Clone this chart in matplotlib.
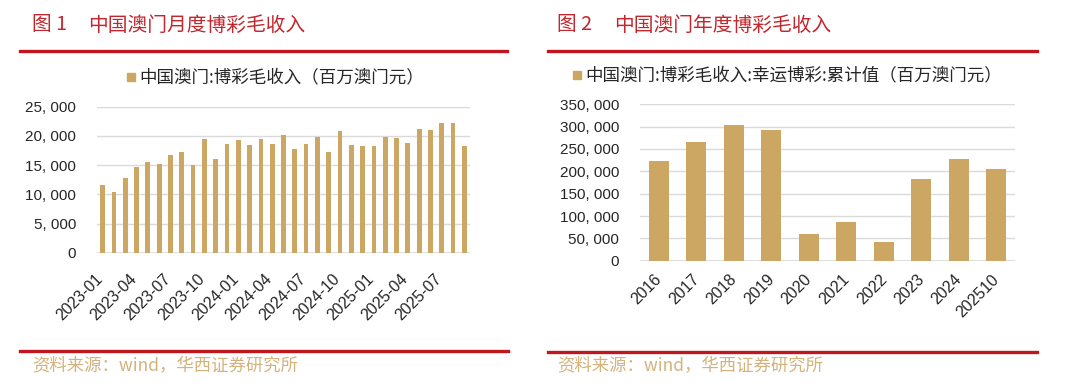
import matplotlib
matplotlib.use("Agg")
import matplotlib.pyplot as plt
from matplotlib.transforms import ScaledTranslation
from matplotlib.ticker import FuncFormatter

# ---------------- data ----------------
months = ["2023-01", "2023-02", "2023-03", "2023-04", "2023-05", "2023-06",
          "2023-07", "2023-08", "2023-09", "2023-10", "2023-11", "2023-12",
          "2024-01", "2024-02", "2024-03", "2024-04", "2024-05", "2024-06",
          "2024-07", "2024-08", "2024-09", "2024-10", "2024-11", "2024-12",
          "2025-01", "2025-02", "2025-03", "2025-04", "2025-05", "2025-06",
          "2025-07", "2025-08", "2025-09"]
monthly_ggr = [11580, 10324, 12738, 14722, 15565, 15207, 16662, 17213, 14937,
               19501, 16042, 18570, 19337, 18486, 19504, 18545, 20188, 17694,
               18600, 19754, 17253, 20790, 18438, 18266, 18254, 19744, 19667,
               18857, 21193, 21064, 22125, 22156, 18289]
month_tick_labels = ["2023-01", "2023-04", "2023-07", "2023-10", "2024-01",
                     "2024-04", "2024-07", "2024-10", "2025-01", "2025-04",
                     "2025-07"]

years = ["2016", "2017", "2018", "2019", "2020", "2021", "2022", "2023",
         "2024", "202510"]
annual_ggr = [223210, 265743, 302846, 292455, 60441, 86863, 42198, 183059,
              226782, 205435]

title1 = "中国澳门月度博彩毛收入"
title2 = "中国澳门年度博彩毛收入"
legend1 = "中国澳门:博彩毛收入（百万澳门元）"
legend2 = "中国澳门:博彩毛收入:幸运博彩:累计值（百万澳门元）"
source = "资料来源：wind，华西证券研究所"

# ---------------- style ----------------
BAR = "#CCA764"
RED = "#C0161D"
TITLE_RED = "#C3272E"
SRC = "#D3B27C"
GRID = "#DADADA"
TXT = "#262626"
CJK = ["Noto Sans CJK SC", "DejaVu Sans"]
NUM = ["Liberation Sans", "DejaVu Sans"]

W, H = 1080, 389
fig = plt.figure(figsize=(W / 100, H / 100), dpi=100)
fig.patch.set_facecolor("white")


def fx(px):
    return px / W


def fy(py):
    return 1 - py / H


def fmt(v, _):
    return f"{int(v):,}".replace(",", ", ")


def style_axes(ax, ylim, step, pad_y):
    ax.set_ylim(*ylim)
    ax.set_yticks(range(0, ylim[1] + 1, step))
    ax.yaxis.set_major_formatter(FuncFormatter(fmt))
    for s in ax.spines.values():
        s.set_visible(False)
    ax.grid(axis="y", color=GRID, linewidth=1.0)
    ax.set_axisbelow(True)
    ax.axhline(0, color=GRID, linewidth=1.2, zorder=0.5)
    ax.tick_params(axis="both", length=0)
    ax.tick_params(axis="y", pad=pad_y, labelsize=11, labelcolor=TXT)
    for t in ax.get_yticklabels():
        t.set_fontfamily(NUM)


# ---------------- left panel ----------------
ax1 = fig.add_axes([fx(97), fy(252.7), fx(470 - 97), (252.7 - 106.7) / H])
x1 = list(range(len(months)))
ax1.bar(x1, monthly_ggr, width=0.42, color=BAR, zorder=2)
ax1.set_xlim(-0.5, len(months) - 0.5)
style_axes(ax1, (0, 25000), 5000, 15)
tick_pos1 = [months.index(m) for m in month_tick_labels]
ax1.set_xticks(tick_pos1)
ax1.set_xticklabels(month_tick_labels, rotation=45, ha="right",
                    fontsize=11.5, color=TXT, fontfamily=NUM)
ax1.tick_params(axis="x", pad=13)
off1 = ScaledTranslation(3 / 100, 0, fig.dpi_scale_trans)
for t in ax1.get_xticklabels():
    t.set_transform(t.get_transform() + off1)

# ---------------- right panel ----------------
ax2 = fig.add_axes([fx(640), fy(260.7), fx(1015 - 640), (260.7 - 104.3) / H])
x2 = list(range(len(years)))
ax2.bar(x2, annual_ggr, width=0.53, color=BAR, zorder=2)
ax2.set_xlim(-0.5, len(years) - 0.5)
style_axes(ax2, (0, 350000), 50000, 15)
ax2.set_xticks(x2)
ax2.set_xticklabels(years, rotation=45, ha="right",
                    fontsize=11.5, color=TXT, fontfamily=NUM)
ax2.tick_params(axis="x", pad=8)
off2 = ScaledTranslation(6 / 100, 0, fig.dpi_scale_trans)
for t in ax2.get_xticklabels():
    t.set_transform(t.get_transform() + off2)

# ---------------- legends (manual) ----------------
fig.patches.append(plt.Rectangle((fx(127), fy(81)), fx(8), 8 / H,
                                 transform=fig.transFigure, color=BAR))
fig.text(fx(139), fy(77), legend1, fontsize=12.6, color=TXT,
         family=CJK, va="center", ha="left")
fig.patches.append(plt.Rectangle((fx(573), fy(79)), fx(8), 8 / H,
                                 transform=fig.transFigure, color=BAR))
fig.text(fx(585), fy(75), legend2, fontsize=12.6, color=TXT,
         family=CJK, va="center", ha="left")

# ---------------- titles ----------------
fig.text(fx(32), fy(25), "图 1", fontsize=14.2, color=TITLE_RED,
         family=CJK, va="center", ha="left")
fig.text(fx(88), fy(25), title1, fontsize=14.2, color=TITLE_RED,
         family=CJK, va="center", ha="left")
fig.text(fx(557), fy(25), "图 2", fontsize=14.2, color=TITLE_RED,
         family=CJK, va="center", ha="left")
fig.text(fx(614), fy(25), title2, fontsize=14.2, color=TITLE_RED,
         family=CJK, va="center", ha="left")

# ---------------- rules ----------------
for (xa, xb, yy) in [(20, 507, 51), (548, 1037, 51), (20, 508, 351), (548, 1037, 351.5)]:
    fig.add_artist(plt.Line2D([fx(xa), fx(xb)], [fy(yy), fy(yy)],
                              transform=fig.transFigure, color=RED, linewidth=2.4))

# ---------------- sources ----------------
fig.text(fx(32), fy(366), source, fontsize=12.5, color=SRC,
         family=CJK, va="center", ha="left")
fig.text(fx(557), fy(366), source, fontsize=12.5, color=SRC,
         family=CJK, va="center", ha="left")

fig.savefig("out.png", dpi=100, facecolor="white")
